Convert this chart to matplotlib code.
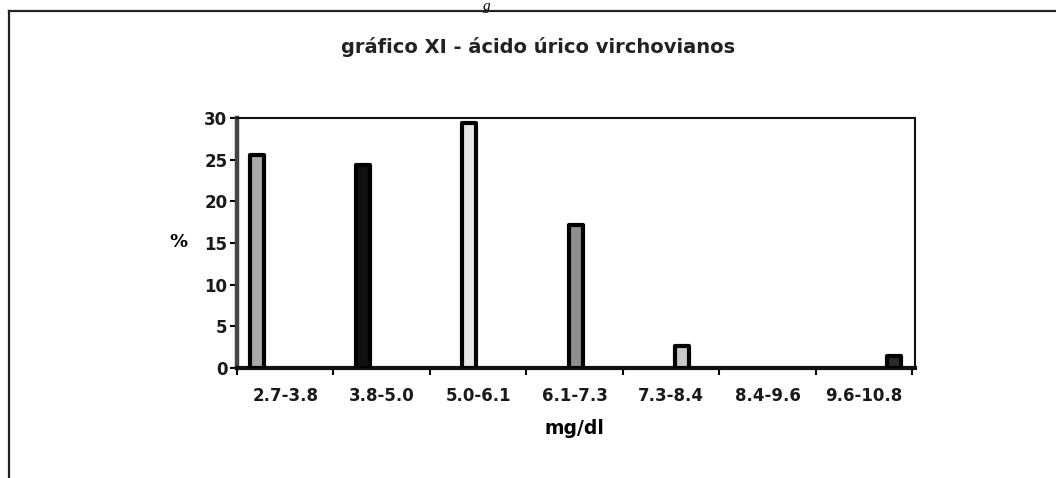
import matplotlib
matplotlib.use("Agg")
import matplotlib.pyplot as plt
from matplotlib.lines import Line2D

categorias = ["2.7-3.8", "3.8-5.0", "5.0-6.1", "6.1-7.3", "7.3-8.4", "8.4-9.6", "9.6-10.8"]
valores = [25.6, 24.4, 29.4, 17.2, 2.6, 0.0, 1.4]
cores = ["#a9a9a9", "#111111", "#e6e6e6", "#8e8e8e", "#c9c9c9", "#6e6e6e", "#2b2b2b"]
yticks = [0, 5, 10, 15, 20, 25, 30]

plt.rcParams['font.family'] = ['DejaVu Sans']
plt.rcParams['font.weight'] = 'bold'

fig = plt.figure(figsize=(10.56, 4.78), dpi=100)
ax = fig.add_axes([237/1056, 110/478, 678/1056, 250/478])

n = len(categorias)
largura = 0.145
# cada serie ocupa uma posicao dentro do grupo (grafico agrupado do excel)
for j, v in enumerate(valores):
    if v <= 0:
        continue
    x = j + 0.5 + (j - 3) * 0.1 + 0.01
    ax.bar(x, v, width=largura, color=cores[j], edgecolor="black",
           linewidth=3, joinstyle="round", zorder=3)

ax.set_xlim(0, 7.03)
ax.set_ylim(0, 30)
ax.set_yticks(yticks)
ax.set_yticklabels([str(t) for t in yticks], fontsize=12, fontweight='bold', color='#1a1a1a')
ax.set_xticks(range(n + 1))
ax.set_xticklabels([])
ax.set_xticks([i + 0.5 for i in range(n)], minor=True)
ax.set_xticklabels(categorias, minor=True, fontsize=12, fontweight='bold', color='#1a1a1a')
ax.tick_params(axis='x', which='major', length=5, width=1.5, direction='out')
ax.tick_params(axis='x', which='minor', length=0, pad=14)
ax.tick_params(axis='y', length=5, width=1.5, pad=2)

ax.spines['left'].set_linewidth(3.2)
ax.spines['left'].set_color('#444444')
ax.spines['bottom'].set_linewidth(3)
ax.spines['top'].set_linewidth(1.5)
ax.spines['right'].set_linewidth(1.5)
for s in ['bottom', 'top', 'right']:
    ax.spines[s].set_color('#111111')

fig.text(538/1056, 1 - 47/478, "gráfico XI - ácido úrico virchovianos",
         ha='center', va='center', fontsize=14, fontweight='bold', color='#222222')
fig.text(178/1056, 1 - 242/478, "%", ha='center', va='center', fontsize=13, fontweight='bold')
fig.text(574/1056, 1 - 428/478, "mg/dl", ha='center', va='center', fontsize=13.5, fontweight='bold')
fig.text(487/1056, 1.0, "g", ha='center', va='top', fontsize=11,
         family='Liberation Serif', style='italic', fontweight='normal')

# moldura externa
fig.add_artist(Line2D([9/1056, 9/1056], [0, 1 - 11/478], transform=fig.transFigure,
                      color='#222222', linewidth=1.6))
fig.add_artist(Line2D([9/1056, 1], [1 - 11/478, 1 - 11/478], transform=fig.transFigure,
                      color='#222222', linewidth=1.6))

fig.savefig("out.png", dpi=100)
